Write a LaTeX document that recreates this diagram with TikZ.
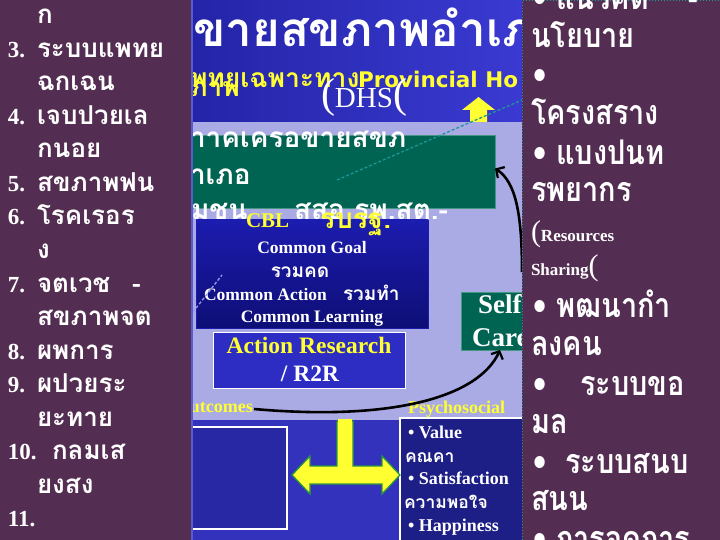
\documentclass[tikz,border=0pt]{standalone}
\usepackage{fontspec}
\setmainfont{Liberation Serif}
\newfontfamily\thf[Script=Thai]{Loma}
\newfontfamily\thn[Script=Thai,FakeStretch=0.85]{Loma}
\newfontfamily\sanf{DejaVu Sans}
\usetikzlibrary{arrows.meta}
\definecolor{panel}{RGB}{84,46,82}
\definecolor{lav}{RGB}{170,170,228}
\definecolor{bgblue}{RGB}{50,50,188}
\definecolor{topl}{RGB}{36,36,168}
\definecolor{topr}{RGB}{58,58,210}
\definecolor{tealbox}{RGB}{0,100,82}
\definecolor{tealedge}{RGB}{70,150,130}
\definecolor{yel}{RGB}{255,255,50}
\definecolor{dotteal}{RGB}{30,150,150}
\definecolor{cbltop}{RGB}{28,28,175}
\definecolor{cblbot}{RGB}{14,14,118}
\definecolor{arblue}{RGB}{45,45,195}
\definecolor{outblue}{RGB}{40,40,165}
\definecolor{psyblue}{RGB}{30,30,135}
\definecolor{edgeblue}{RGB}{90,90,215}
\definecolor{arrgreen}{RGB}{40,150,60}
\newcommand\fsz[1]{\fontsize{#1}{#1}\selectfont}
\begin{document}
\begin{tikzpicture}[x=1pt,y=-1pt,
  txt/.style={anchor=base west,inner sep=0pt,outer sep=0pt,text=white},
  lth/.style={txt,font=\thf\bfseries\fsz{26}},
  lnum/.style={txt,font=\bfseries\fsz{23}},
  rth/.style={txt,font=\thn\bfseries\fsz{34}},
  rlat/.style={txt,font=\bfseries\fsz{17}},
  box/.style={anchor=north west,inner sep=0pt,outer sep=0pt},
  blk/.style={line width=2.6pt,black,-{Straight Barb[length=6pt,width=13pt,line width=2.2pt]}}]
\useasboundingbox (0,0) rectangle (720,540);
% backgrounds
\fill[bgblue] (0,0) rectangle (720,540);
\shade[left color=topl,right color=topr] (190,0) rectangle (522,122);
\fill[lav] (190,122) rectangle (522,420);
% title
\node[txt,font=\thf\bfseries\fsz{47.5}] (title) at (193,47) {ขายสขภาพอำเภ};
\node[txt,text=yel,font=\thf\bfseries\fsz{26.5}] (sub1) at (190,88) {พทยเฉพาะทาง};
\node[txt,text=yel,font=\sanf\bfseries\fsz{21.5}] (sub2) at (358,88) {Provincial Ho};
\node[txt,text=yel,font=\thf\bfseries\fsz{26.5}] (sub3) at (190,97) {ภาพ};
\node[txt,font=\fsz{29}] (dhs) at (321,108) {{\fsz{42}(}DHS{\fsz{42}(}};
% up arrow
\fill[yel] (470,122) -- (470,110) -- (462,110) -- (478.5,97) -- (495,110) -- (487,110) -- (487,122) -- cycle;
% green box
\node[box,fill=tealbox,draw=tealedge,line width=0.8pt,minimum width=305pt,minimum height=73pt] (green) at (190,135) {};
\node[txt,font=\thf\bfseries\fsz{28}] (g1) at (190,148) {าาคเครอขายสขภ};
\node[txt,font=\thf\bfseries\fsz{28}] (g2) at (190,185) {าเภอ};
\node[txt,font=\thf\bfseries\fsz{28}] (g3) at (191,219) {มชน};
\node[txt,font=\thf\bfseries\fsz{28}] (g4) at (294,219) {สสอ รพ.สต.-};
% CBL box
\node[box,top color=cbltop,bottom color=cblbot,draw=cbltop,minimum width=232pt,minimum height=108pt] (cbl) at (196,220) {};
\node[txt,text=yel,font=\bfseries\fsz{21}] (cblt) at (246,228) {CBL};
\node[txt,text=yel,font=\thf\bfseries\fsz{28}] (rb) at (320,229) {รบรฐ.};
\node[anchor=base,inner sep=0pt,text=white,font=\bfseries\fsz{17.5}] (cg) at (312,253) {Common Goal};
\node[anchor=base,inner sep=0pt,text=white,font=\thf\bfseries\fsz{19}] (rk) at (300,277) {รวมคด};
\node[txt,font=\bfseries\fsz{17.5}] (ca) at (204,300) {Common Action};
\node[txt,font=\thf\bfseries\fsz{19}] (rt) at (343,300) {รวมทำ};
\node[anchor=base,inner sep=0pt,text=white,font=\bfseries\fsz{17.5}] (cl) at (312,322) {Common Learning};
% Action research box
\node[box,fill=arblue,draw=white,line width=0.8pt,minimum width=192pt,minimum height=56pt] (ar) at (213,332) {};
\node[anchor=base,inner sep=0pt,text=yel,font=\bfseries\fsz{23.5}] (ar1) at (309,353) {Action Research};
\node[anchor=base,inner sep=0pt,text=white,font=\bfseries\fsz{23.5}] (ar2) at (310,381) {/ R2R};
% self care
\node[box,fill=tealbox,draw=tealedge,line width=0.8pt,minimum width=70pt,minimum height=58pt] (self) at (461,292) {};
\node[txt,font=\bfseries\fsz{27}] (s1) at (478,313) {Self};
\node[txt,font=\bfseries\fsz{27}] (s2) at (472,346) {Care};
% dashed lines
\coordinate (d1) at (337,180);
\coordinate (d2) at (522,100);
\draw[dotteal,densely dashed,line width=1.3pt] (d1) -- (d2);
\coordinate (d3) at (193,312);
\coordinate (d4) at (222,275);
\draw[edgeblue!60!white,densely dashed,line width=1.3pt] (d3) -- (d4);
% outcomes
\node[anchor=base east,inner sep=0pt,text=yel,font=\bfseries\fsz{18}] (outc) at (253,412) {Outcomes};
\node[anchor=base west,inner sep=0pt,text=yel,font=\bfseries\fsz{18}] (psyt) at (408,413) {Psychosocial};
% black curves
\coordinate (cbs) at (254,409);
\draw[blk] (cbs) .. controls (390,421) and (478,398) .. ([xshift=4pt]self.south);
\coordinate (cas) at (522,272);
\draw[blk] (cas) .. controls (522,215) and (516,182) .. ([yshift=3pt]green.east);
% bottom boxes
\node[box,fill=outblue,draw=white,line width=1.6pt,minimum width=102pt,minimum height=102pt] (outbox) at (185,427) {};
\node[box,fill=psyblue,draw=white,line width=1.6pt,minimum width=128pt,minimum height=128pt] (psybox) at (400,418) {};
\node[txt,font=\bfseries\fsz{18}] (p1) at (408,438) {• Value};
\node[txt,font=\thf\bfseries\fsz{17.5}] (p2) at (405,462) {คณคา};
\node[txt,font=\bfseries\fsz{18}] (p3) at (408,484) {• Satisfaction};
\node[txt,font=\thf\bfseries\fsz{17.5}] (p4) at (404,508) {ความพอใจ};
\node[txt,font=\bfseries\fsz{18}] (p5) at (408,531) {• Happiness};
% T arrow
\filldraw[fill=yel,draw=arrgreen,line width=1.3pt] (292,475) -- (310,456) -- (310,466) -- (337,466) -- (337,421) -- (353,421) -- (353,466) -- (382,466) -- (382,456) -- (400,475) -- (382,494) -- (382,484) -- (310,484) -- (310,494) -- cycle;
\fill[yel] (338,419) rectangle (352,425);
% left panel
\fill[panel] (0,0) rectangle (191,540);
\draw[edgeblue,line width=2pt] (192,0) -- (192,540);
\node[lth] (l0) at (37,24) {ก};
\node[lnum] (l1n) at (8,57.5) {3.};
\node[lth] (l1) at (37,57.5) {ระบบแพทย};
\node[lth] (l2) at (37,91) {ฉกเฉน};
\node[lnum] (l3n) at (8,124.5) {4.};
\node[lth] (l3) at (37,124.5) {เจบปวยเล};
\node[lth] (l4) at (37,158) {กนอย};
\node[lnum] (l5n) at (8,191.5) {5.};
\node[lth] (l5) at (37,191.5) {สขภาพฟน};
\node[lnum] (l6n) at (8,225) {6.};
\node[lth] (l6) at (37,225) {โรคเรอร};
\node[lth] (l7) at (37,258.5) {ง};
\node[lnum] (l8n) at (8,292) {7.};
\node[lth] (l8) at (37,292) {จตเวช};
\node[lth] (l8d) at (132,292) {-};
\node[lth] (l9) at (37,325.5) {สขภาพจต};
\node[lnum] (l10n) at (8,359) {8.};
\node[lth] (l10) at (37,359) {ผพการ};
\node[lnum] (l11n) at (8,392.5) {9.};
\node[lth] (l11) at (37,392.5) {ผปวยระ};
\node[lth] (l12) at (37,426) {ยะทาย};
\node[lnum] (l13n) at (8,459.5) {10.};
\node[lth] (l13) at (52,459.5) {กลมเส};
\node[lth] (l14) at (37,493) {ยงสง};
\node[lnum] (l15n) at (8,526.5) {11.};
% right panel
\fill[panel] (522,0) rectangle (720,540);
\draw[dotteal,dotted,line width=1pt] (522.5,540) -- (522.5,0.5) -- (720,0.5);
\node[rth] (r0) at (533,10) {• แนวคด};
\node[rth] (r0d) at (688,10) {-};
\node[rth] (r1) at (531,48) {นโยบาย};
\node[rth] (r2) at (533,87) {•};
\node[rth] (r3) at (531,125) {โครงสราง};
\node[rth] (r4) at (533,165) {• แบงปนท};
\node[rth] (r5) at (531,202) {รพยากร};
\node[rlat] (r6) at (531,241) {{\fsz{30}\mdseries(}Resources};
\node[rlat] (r7) at (531,275) {Sharing{\fsz{30}\mdseries(}};
\node[rth] (r8) at (533,317) {• พฒนากำ};
\node[rth] (r9) at (531,355) {ลงคน};
\node[rth] (r10) at (533,395) {•};
\node[rth] (r10b) at (580,395) {ระบบขอ};
\node[rth] (r11) at (531,433) {มล};
\node[rth] (r12) at (533,473) {•};
\node[rth] (r12b) at (565,473) {ระบบสนบ};
\node[rth] (r13) at (531,510) {สนน};
\node[rth] (r14) at (533,550) {• การจดการ};
\end{tikzpicture}
\end{document}
